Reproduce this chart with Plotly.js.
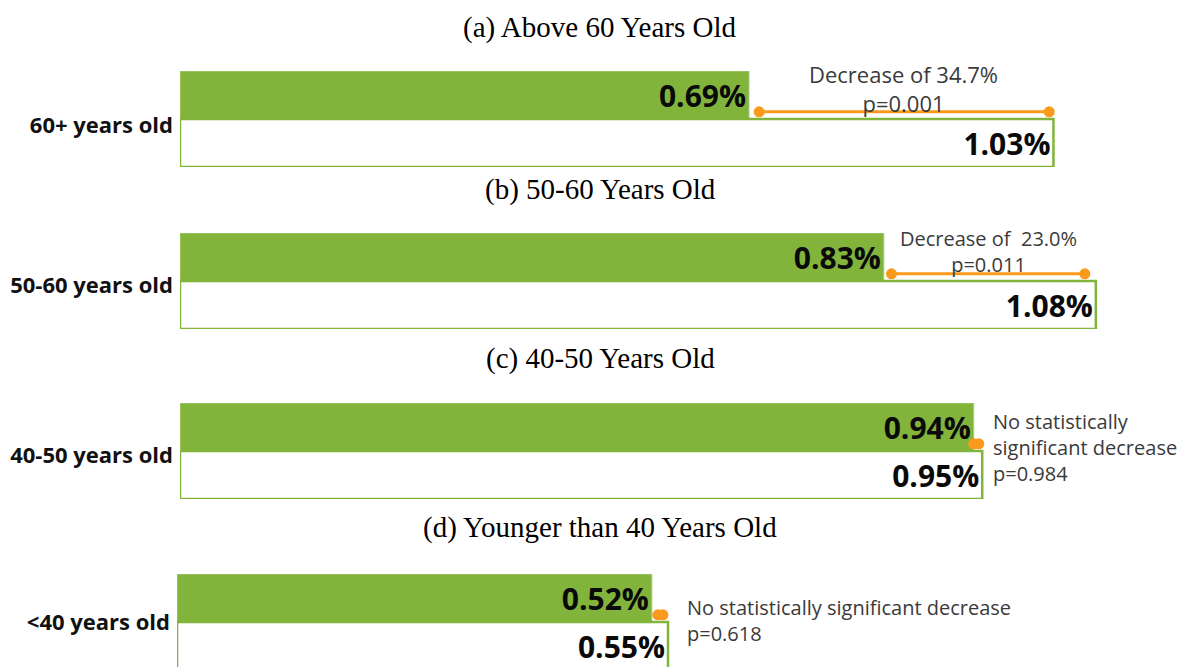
<!DOCTYPE html>
<html>
<head>
<meta charset="utf-8">
<script src="https://cdn.plot.ly/plotly-3.0.1.min.js"></script>
<style>html,body{margin:0;padding:0;background:#fff;}#chart{width:1180px;height:667px;}</style>
</head>
<body>
<div id="chart"></div>
<script>
// ---- data ----
const panelTitles = ["(a) Above 60 Years Old", "(b) 50-60 Years Old", "(c) 40-50 Years Old", "(d) Younger than 40 Years Old"];
const categories = ["60+ years old", "50-60 years old", "40-50 years old", "<40 years old"];
const afterValues = [0.671, 0.83, 0.936, 0.560];   // bar lengths
const beforeValues = [1.03, 1.08, 0.946, 0.579];
const afterLabels = ["0.69%", "0.83%", "0.94%", "0.52%"];
const beforeLabels = ["1.03%", "1.08%", "0.95%", "0.55%"];
const bracketFrom = [0.683, 0.839, 0.936, 0.567];
const bracketTo = [1.025, 1.067, 0.942, 0.573];
const noteTexts = [
  "Decrease of 34.7%<br>p=0.001",
  "Decrease of  23.0%<br>p=0.011",
  "No statistically<br>significant decrease<br>p=0.984",
  "No statistically significant decrease<br>p=0.618"
];

// ---- layout geometry (pixels) ----
const W = 1180, H = 667;
const pxX = v => v / W;
const pxY = v => 1 - v / H;
const panelTop = [71, 233, 403, 574];
const axisLeft = [180, 180, 180, 177];
const titleY = [27, 189, 358, 527];
const labelShift = [6, 4, 4, 0];
const barPx = 48;
const pxPerUnit = 848;
const notePos = [
  {x: 903, y: 88, xanchor: "center", align: "center", size: 22},
  {x: 988, y: 251, xanchor: "center", align: "center", size: 20},
  {x: 991, y: 447, xanchor: "left", align: "left", size: 20},
  {x: 685, y: 620, xanchor: "left", align: "left", size: 20}
];

const GREEN = "#82B43C";
const ORANGE = "#F99A1C";
const SANS = "Open Sans, DejaVu Sans, sans-serif";

const traces = [];
const layout = {
  width: W, height: H,
  margin: {l: 0, r: 0, t: 0, b: 0},
  paper_bgcolor: "#ffffff",
  plot_bgcolor: "rgba(0,0,0,0)",
  showlegend: false,
  barmode: "overlay",
  annotations: []
};

for (let i = 0; i < 4; i++) {
  const n = i === 0 ? "" : String(i + 1);
  const xa = "x" + n, ya = "y" + n;
  const top = panelTop[i];
  const bottom = Math.min(top + 2 * barPx, H);
  const yLow = 1.5 - (bottom - top) / barPx;

  layout["xaxis" + n] = {
    domain: [pxX(axisLeft[i]), 1],
    range: [0, (W - axisLeft[i]) / pxPerUnit],
    anchor: ya, visible: false, fixedrange: true
  };
  layout["yaxis" + n] = {
    domain: [pxY(bottom), pxY(top)],
    range: [yLow, 1.5],
    anchor: xa,
    tickmode: "array", tickvals: [0.5 - labelShift[i] / barPx], ticktext: [categories[i]],
    ticks: "", showgrid: false, zeroline: false, showline: false,
    ticklabelstandoff: 6,
    tickfont: {family: SANS, size: 22, color: "#111111", weight: 700},
    fixedrange: true
  };

  traces.push({
    type: "bar", orientation: "h", xaxis: xa, yaxis: ya,
    x: [afterValues[i]], y: [1], width: 1,
    marker: {color: GREEN, line: {color: "#A9CF7E", width: 1}},
    text: [afterLabels[i]], textposition: "inside", insidetextanchor: "end",
    constraintext: "none",
    textfont: {family: SANS, size: 30, color: "#0a0a0a", weight: 700},
    hoverinfo: "skip"
  });
  traces.push({
    type: "bar", orientation: "h", xaxis: xa, yaxis: ya,
    x: [beforeValues[i]], y: [0], width: 1,
    marker: {color: "#ffffff", line: {color: GREEN, width: 2.5}},
    text: [beforeLabels[i]], textposition: "inside", insidetextanchor: "end",
    constraintext: "none",
    textfont: {family: SANS, size: 30, color: "#0a0a0a", weight: 700},
    hoverinfo: "skip"
  });
  traces.push({
    type: "scatter", mode: "lines+markers", xaxis: xa, yaxis: ya,
    x: [bracketFrom[i], bracketTo[i]], y: [0.65, 0.65],
    line: {color: ORANGE, width: 3},
    marker: {color: ORANGE, size: 11},
    cliponaxis: false, hoverinfo: "skip"
  });

  layout.annotations.push({
    xref: "paper", yref: "paper", x: pxX(600), y: pxY(titleY[i]),
    xanchor: "center", yanchor: "middle", showarrow: false,
    text: panelTitles[i],
    font: {family: "Liberation Serif, Times New Roman, serif", size: 29, color: "#000000"}
  });
  layout.annotations.push({
    xref: "paper", yref: "paper", x: pxX(notePos[i].x), y: pxY(notePos[i].y),
    xanchor: notePos[i].xanchor, yanchor: "middle", align: notePos[i].align,
    showarrow: false, text: noteTexts[i],
    font: {family: SANS, size: notePos[i].size, color: "#3a3a3a"}
  });
}

Plotly.newPlot("chart", traces, layout, {staticPlot: true, displayModeBar: false});
</script>
</body>
</html>
